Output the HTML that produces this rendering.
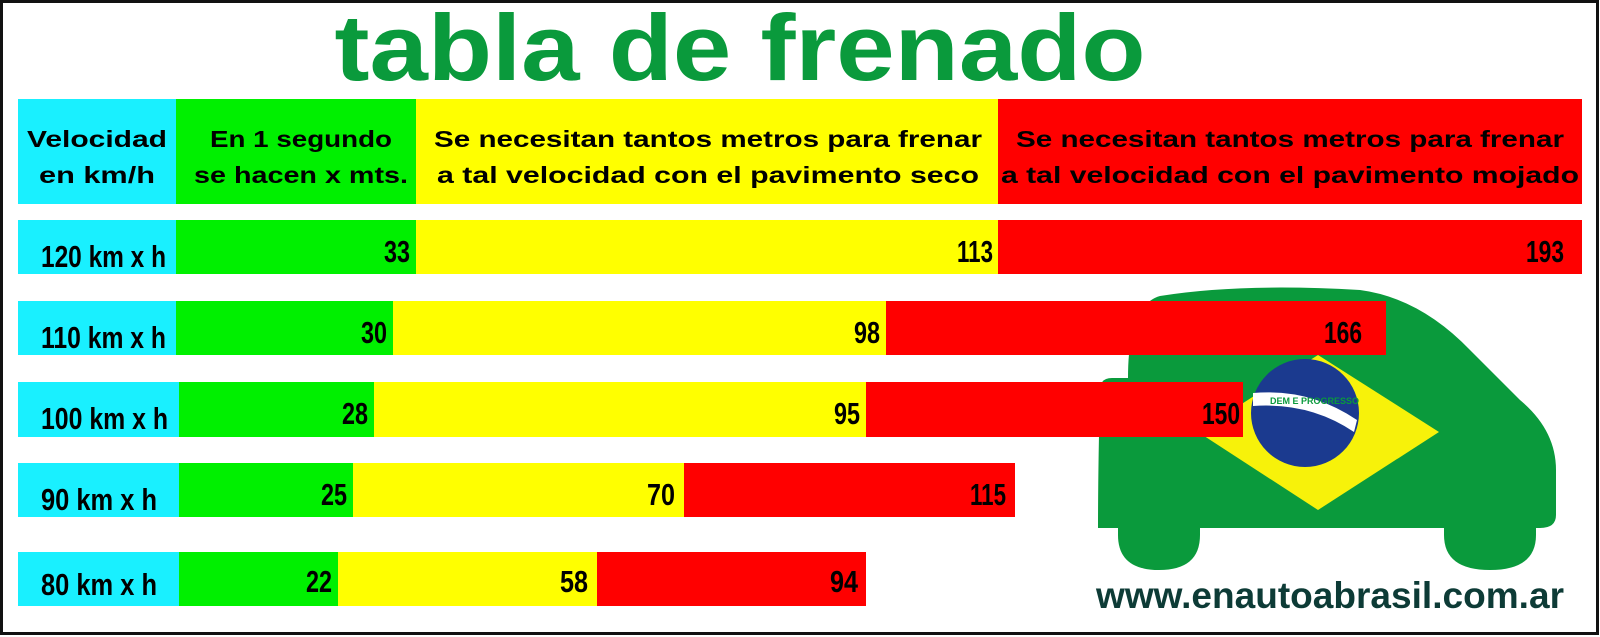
<!DOCTYPE html>
<html><head><meta charset="utf-8"><style>
html,body{margin:0;padding:0;background:#fff}
svg{display:block}
text{font-family:"Liberation Sans",sans-serif;font-weight:bold}
</style></head><body>
<svg width="1600" height="637" viewBox="0 0 1600 637" xmlns="http://www.w3.org/2000/svg">
<rect x="1.5" y="1.5" width="1596" height="632" fill="#fff" stroke="#111" stroke-width="3"/>
<text x="740" y="80" text-anchor="middle" font-size="94" fill="#0a9a3c" textLength="811" lengthAdjust="spacingAndGlyphs">tabla de frenado</text>

<!-- car -->
<g fill="#0a9a3c">
<path d="M1100 390 Q1100 378 1112 378 L1128 378 Q1128 305 1160 296 Q1240 283 1360 290 Q1420 298 1470 350 Q1500 380 1520 400 Q1556 430 1556 470 L1556 515 Q1556 528 1540 528 L1098 528 Q1098 470 1100 390 Z"/>
<path d="M1118 520 L1200 520 L1200 535 Q1200 570 1159 570 Q1118 570 1118 535 Z"/>
<path d="M1444 520 L1536 520 L1536 535 Q1536 570 1490 570 Q1444 570 1444 535 Z"/>
</g>
<polygon points="1198,432 1318,355 1439,432 1318,510" fill="#f7f20a"/>
<circle cx="1305" cy="413" r="54" fill="#1b3a8f"/>
<path d="M1253 393 Q1310 388 1357 420 L1354 432 Q1310 402 1253 406 Z" fill="#fff"/>
<text x="1270" y="404" font-size="9" font-weight="normal" fill="#0a9a3c">DEM E PROGRESSO</text>
<text x="1330" y="608" text-anchor="middle" font-size="37" fill="#0d3b36" textLength="468" lengthAdjust="spacingAndGlyphs">www.enautoabrasil.com.ar</text>

<!-- header -->
<rect x="18" y="99" width="158" height="105" fill="#19f0ff"/>
<rect x="176" y="99" width="240" height="105" fill="#00f000"/>
<rect x="416" y="99" width="582" height="105" fill="#ffff00"/>
<rect x="998" y="99" width="584" height="105" fill="#ff0000"/>
<g font-size="23" fill="#000" text-anchor="middle">
<text x="97" y="147" textLength="140" lengthAdjust="spacingAndGlyphs">Velocidad</text>
<text x="97" y="183" textLength="116" lengthAdjust="spacingAndGlyphs">en km/h</text>
<text x="301" y="147" textLength="182" lengthAdjust="spacingAndGlyphs">En 1 segundo</text>
<text x="301" y="183" textLength="214" lengthAdjust="spacingAndGlyphs">se hacen x mts.</text>
<text x="708" y="147" textLength="548" lengthAdjust="spacingAndGlyphs">Se necesitan tantos metros para frenar</text>
<text x="708" y="183" textLength="542" lengthAdjust="spacingAndGlyphs">a tal velocidad con el pavimento seco</text>
<text x="1290" y="147" textLength="548" lengthAdjust="spacingAndGlyphs">Se necesitan tantos metros para frenar</text>
<text x="1290" y="183" textLength="578" lengthAdjust="spacingAndGlyphs">a tal velocidad con el pavimento mojado</text>
</g>

<!-- rows -->
<g>
<rect x="18" y="220" width="158" height="54" fill="#19f0ff"/>
<rect x="176" y="220" width="240" height="54" fill="#00f000"/>
<rect x="416" y="220" width="582" height="54" fill="#ffff00"/>
<rect x="998" y="220" width="584" height="54" fill="#ff0000"/>

<rect x="18" y="301" width="158" height="54" fill="#19f0ff"/>
<rect x="176" y="301" width="217" height="54" fill="#00f000"/>
<rect x="393" y="301" width="493" height="54" fill="#ffff00"/>
<rect x="886" y="301" width="500" height="54" fill="#ff0000"/>

<rect x="18" y="382" width="161" height="55" fill="#19f0ff"/>
<rect x="179" y="382" width="195" height="55" fill="#00f000"/>
<rect x="374" y="382" width="492" height="55" fill="#ffff00"/>
<rect x="866" y="382" width="377" height="55" fill="#ff0000"/>

<rect x="18" y="463" width="161" height="54" fill="#19f0ff"/>
<rect x="179" y="463" width="174" height="54" fill="#00f000"/>
<rect x="353" y="463" width="331" height="54" fill="#ffff00"/>
<rect x="684" y="463" width="331" height="54" fill="#ff0000"/>

<rect x="18" y="552" width="161" height="54" fill="#19f0ff"/>
<rect x="179" y="552" width="159" height="54" fill="#00f000"/>
<rect x="338" y="552" width="259" height="54" fill="#ffff00"/>
<rect x="597" y="552" width="269" height="54" fill="#ff0000"/>
</g>
<g font-size="31" fill="#000">
<text x="41" y="267" textLength="125" lengthAdjust="spacingAndGlyphs">120 km x h</text>
<text x="41" y="348" textLength="125" lengthAdjust="spacingAndGlyphs">110 km x h</text>
<text x="41" y="429" textLength="127" lengthAdjust="spacingAndGlyphs">100 km x h</text>
<text x="41" y="510" textLength="116" lengthAdjust="spacingAndGlyphs">90 km x h</text>
<text x="41" y="595" textLength="116" lengthAdjust="spacingAndGlyphs">80 km x h</text>
</g>
<g font-size="31" fill="#000" text-anchor="end">
<text x="410" y="262" textLength="26" lengthAdjust="spacingAndGlyphs">33</text>
<text x="993" y="262" textLength="36" lengthAdjust="spacingAndGlyphs">113</text>
<text x="1564" y="262" textLength="38" lengthAdjust="spacingAndGlyphs">193</text>
<text x="387" y="343" textLength="26" lengthAdjust="spacingAndGlyphs">30</text>
<text x="880" y="343" textLength="26" lengthAdjust="spacingAndGlyphs">98</text>
<text x="1362" y="343" textLength="38" lengthAdjust="spacingAndGlyphs">166</text>
<text x="368" y="424" textLength="26" lengthAdjust="spacingAndGlyphs">28</text>
<text x="860" y="424" textLength="26" lengthAdjust="spacingAndGlyphs">95</text>
<text x="1240" y="424" textLength="38" lengthAdjust="spacingAndGlyphs">150</text>
<text x="347" y="505" textLength="26" lengthAdjust="spacingAndGlyphs">25</text>
<text x="675" y="505" textLength="28" lengthAdjust="spacingAndGlyphs">70</text>
<text x="1006" y="505" textLength="36" lengthAdjust="spacingAndGlyphs">115</text>
<text x="332" y="592" textLength="26" lengthAdjust="spacingAndGlyphs">22</text>
<text x="588" y="592" textLength="28" lengthAdjust="spacingAndGlyphs">58</text>
<text x="858" y="592" textLength="28" lengthAdjust="spacingAndGlyphs">94</text>
</g>
</svg>
</body></html>
